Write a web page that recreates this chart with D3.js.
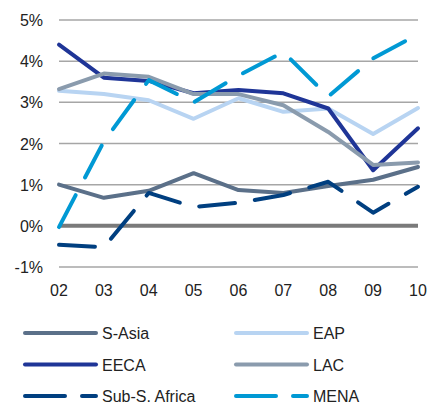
<!DOCTYPE html>
<html lang="en">
<head>
<meta charset="utf-8">
<title>Growth by region</title>
<script src="https://d3js.org/d3.v7.min.js"></script>
<style>
body { margin: 0; background: #fff; }
text { font-family: "Liberation Sans", Arial, sans-serif; fill: #222; }
.grid line { stroke: #a6a6a6; stroke-width: 1.5px; }
.zero { stroke: #7a7a7a; stroke-width: 4px; }
.series { fill: none; stroke-width: 4px; stroke-linecap: round; stroke-linejoin: round; }
</style>
</head>
<body>
<div id="chart"></div>
<script>
var years = ["02", "03", "04", "05", "06", "07", "08", "09", "10"];
var yTicks = [-1, 0, 1, 2, 3, 4, 5];

var sAsia = [1.0, 0.68, 0.85, 1.28, 0.87, 0.8, 0.97, 1.12, 1.43];
var eap = [3.28, 3.2, 3.05, 2.6, 3.1, 2.77, 2.85, 2.23, 2.86];
var eeca = [4.4, 3.6, 3.52, 3.22, 3.3, 3.22, 2.85, 1.35, 2.37];
var lac = [3.32, 3.7, 3.62, 3.2, 3.2, 2.93, 2.28, 1.48, 1.54];
var subSAfrica = [-0.46, -0.52, 0.8, 0.46, 0.56, 0.75, 1.07, 0.32, 0.95];
var mena = [-0.03, 2.05, 3.54, 3.0, 3.65, 4.22, 3.14, 4.07, 4.65];

var series = [
  { name: "S-Asia", values: sAsia, color: "#5b7089", dashed: false },
  { name: "EAP", values: eap, color: "#b8d4f2", dashed: false },
  { name: "EECA", values: eeca, color: "#1f3597", dashed: false },
  { name: "LAC", values: lac, color: "#8a9bad", dashed: false },
  { name: "Sub-S. Africa", values: subSAfrica, color: "#003f80", dashed: true },
  { name: "MENA", values: mena, color: "#0099d4", dashed: true }
];

var width = 428, height = 406;
var svg = d3.select("#chart").append("svg")
  .attr("width", width)
  .attr("height", height);

var x = d3.scalePoint().domain(years).range([59, 418]);
var y = d3.scaleLinear().domain([-1, 5]).range([267, 20]);

// gridlines
svg.append("g").attr("class", "grid")
  .selectAll("line")
  .data(yTicks.filter(function(d) { return d !== 0; }))
  .enter().append("line")
  .attr("x1", 59).attr("x2", 418)
  .attr("y1", function(d) { return y(d); })
  .attr("y2", function(d) { return y(d); });

svg.append("line").attr("class", "zero")
  .attr("x1", 59).attr("x2", 418)
  .attr("y1", y(0)).attr("y2", y(0));

// y labels
svg.append("g").selectAll("text")
  .data(yTicks)
  .enter().append("text")
  .attr("x", 43)
  .attr("y", function(d) { return y(d) + 6; })
  .attr("text-anchor", "end")
  .style("font-size", "16px")
  .text(function(d) { return d + "%"; });

// x labels
svg.append("g").selectAll("text")
  .data(years)
  .enter().append("text")
  .attr("x", function(d) { return x(d); })
  .attr("y", 296)
  .attr("text-anchor", "middle")
  .style("font-size", "16px")
  .text(function(d) { return d; });

var line = d3.line()
  .x(function(d, i) { return x(years[i]); })
  .y(function(d) { return y(d); });

svg.append("g").selectAll("path")
  .data(series)
  .enter().append("path")
  .attr("class", "series")
  .attr("d", function(d) { return line(d.values); })
  .attr("stroke", function(d) { return d.color; })
  .attr("stroke-dasharray", function(d) { return d.dashed ? "36,20" : null; });

// legend
var legend = svg.append("g").selectAll("g")
  .data(series)
  .enter().append("g")
  .attr("transform", function(d, i) {
    return "translate(" + (i % 2 === 0 ? 25 : 236) + "," + (333 + Math.floor(i / 2) * 31.5) + ")";
  });

legend.append("line")
  .attr("class", "series")
  .attr("x1", 0).attr("x2", 71)
  .attr("stroke", function(d) { return d.color; })
  .attr("stroke-dasharray", function(d) { return d.dashed ? "40,17" : null; });

legend.append("text")
  .attr("x", 77)
  .attr("y", 6)
  .style("font-size", "16px")
  .text(function(d) { return d.name; });
</script>
</body>
</html>
